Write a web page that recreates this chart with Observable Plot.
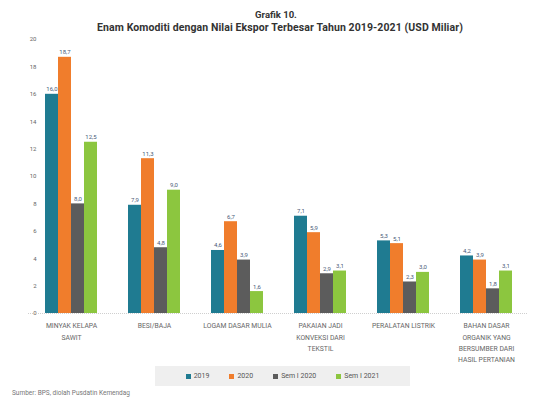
<!DOCTYPE html>
<html>
<head>
<meta charset="utf-8">
<script src="https://cdn.jsdelivr.net/npm/d3@7"></script>
<script src="https://cdn.jsdelivr.net/npm/@observablehq/plot@0.6"></script>
<style>
  html, body { margin: 0; padding: 0; background: #fff; }
  body { width: 546px; height: 402px; font-family: Roboto, "Noto Sans", sans-serif; position: relative; overflow: hidden; }
  #head { height: 33px; text-align: center; color: #333; font-weight: bold; }
  #t1 { padding-top: 8px; font-size: 9.5px; line-height: 13px; padding-left: 6px; }
  #t2 { font-size: 10.5px; line-height: 13px; padding-left: 14px; letter-spacing: 0.1px; }
  #legend { position: absolute; left: 155px; top: 366px; width: 255px; height: 20px; background: #efefef;
            display: flex; align-items: center; justify-content: center; gap: 20px; font-size: 7px; color: #555; }
  #legend span.sw { display: inline-block; width: 5px; height: 5px; margin-right: 3px; vertical-align: middle; }
  #source { position: absolute; left: 12px; top: 389px; font-size: 6.5px; color: #777; }
</style>
</head>
<body>
<div id="head"><div id="t1">Grafik 10.</div><div id="t2">Enam Komoditi dengan Nilai Ekspor Terbesar Tahun 2019-2021 (USD Miliar)</div></div>
<div id="chart"></div>
<div id="legend"></div>
<div id="source">Sumber: BPS, diolah Pusdatin Kemendag</div>
<script>
const categories = [
  "MINYAK KELAPA SAWIT",
  "BESI/BAJA",
  "LOGAM DASAR MULIA",
  "PAKAIAN JADI KONVEKSI DARI TEKSTIL",
  "PERALATAN LISTRIK",
  "BAHAN DASAR ORGANIK YANG BERSUMBER DARI HASIL PERTANIAN"
];
const tickLabels = [
  "MINYAK KELAPA\nSAWIT",
  "BESI/BAJA",
  "LOGAM DASAR MULIA",
  "PAKAIAN JADI\nKONVEKSI DARI\nTEKSTIL",
  "PERALATAN LISTRIK",
  "BAHAN DASAR\nORGANIK YANG\nBERSUMBER DARI\nHASIL PERTANIAN"
];
const series = ["2019", "2020", "Sem I 2020", "Sem I 2021"];
const v2019 = [16.0, 7.9, 4.6, 7.1, 5.3, 4.2];
const v2020 = [18.7, 11.3, 6.7, 5.9, 5.1, 3.9];
const vSem2020 = [8.0, 4.8, 3.9, 2.9, 2.3, 1.8];
const vSem2021 = [12.5, 9.0, 1.6, 3.1, 3.0, 3.1];
const yTicks = [0, 2, 4, 6, 8, 10, 12, 14, 16, 18, 20];
const colors = ["#1f7b91", "#f07d2c", "#5c5c5c", "#8cc63f"];

const seriesValues = [v2019, v2020, vSem2020, vSem2021];
const data = [];
categories.forEach((c, i) => {
  series.forEach((s, j) => data.push({category: c, series: s, value: seriesValues[j][i]}));
});
const fmt = v => v.toFixed(1).replace(".", ",");

const W = 546, H = 330, mL = 28, mR = 18, mT = 6, mB = 50;
const plot = Plot.plot({
  width: W, height: H,
  marginLeft: mL, marginRight: mR, marginTop: mT, marginBottom: mB,
  style: {fontFamily: "Roboto, sans-serif", background: "transparent"},
  fx: {domain: categories, paddingInner: 0.35, paddingOuter: 0.175, label: null},
  x: {domain: series, padding: 0, axis: null},
  y: {domain: [0, 20], label: null},
  color: {domain: series, range: colors},
  marks: [
    Plot.axisY({ticks: yTicks, tickSize: 0, tickPadding: 8, fontSize: 6, fill: "#666", label: null}),
    Plot.axisFx({anchor: "bottom", tickSize: 0, tickPadding: 7, fontSize: 6.8, fill: "#666", label: null,
      lineHeight: 1.65, tickFormat: d => tickLabels[categories.indexOf(d)]}),
    Plot.barY(data, {fx: "category", x: "series", y: "value", fill: "series"}),
    Plot.text(data, {fx: "category", x: "series", y: "value", text: d => fmt(d.value),
      dy: -5, fontSize: 6, fill: "#4a5a78"})
  ]
});
document.getElementById("chart").appendChild(plot);

// full-width baseline drawn through Plot's y scale
const y0 = plot.scale("y").apply(0);
d3.select(plot).append("line")
  .attr("x1", mL).attr("x2", W - mR).attr("y1", y0 + 0.5).attr("y2", y0 + 0.5)
  .attr("stroke", "#cfcfcf").attr("stroke-width", 1).attr("stroke-dasharray", "1,1");

const lg = document.getElementById("legend");
series.forEach((s, i) => {
  const item = document.createElement("div");
  item.innerHTML = `<span class="sw" style="background:${colors[i]}"></span>${s}`;
  lg.appendChild(item);
});
</script>
</body>
</html>
